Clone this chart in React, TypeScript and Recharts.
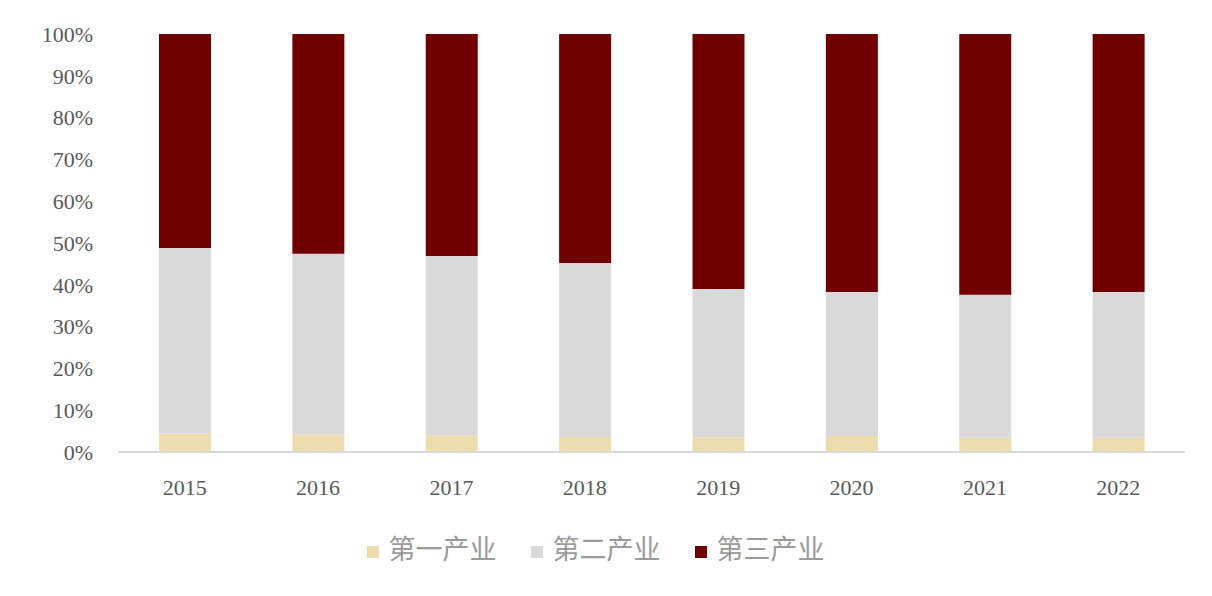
import React from 'react';
import { BarChart, Bar, XAxis, YAxis, Legend } from 'recharts';

const years = ['2015', '2016', '2017', '2018', '2019', '2020', '2021', '2022'];
const primary = [4.4, 4.2, 4.0, 3.6, 3.5, 3.8, 3.4, 3.4];
const secondary = [44.4, 43.2, 42.9, 41.6, 35.5, 34.5, 34.2, 34.9];
const tertiary = [51.2, 52.6, 53.1, 54.8, 61.0, 61.7, 62.4, 61.7];
const yTicks = [0, 10, 20, 30, 40, 50, 60, 70, 80, 90, 100];

const data = years.map((y, i) => ({
  year: y,
  p: primary[i],
  s: secondary[i],
  t: tertiary[i],
}));

const tickFont = { fontFamily: '"Liberation Serif", "Times New Roman", serif', fontSize: 22, fill: '#595959' };

export default function App() {
  return (
    <div style={{ position: 'absolute', left: 0, top: 0, background: '#fff' }}>
      <BarChart
        width={1212}
        height={596}
        data={data}
        margin={{ top: 34, right: 27, left: 10, bottom: 29 }}
        barSize={52}
      >
        <XAxis
          dataKey="year"
          tickLine={false}
          axisLine={{ stroke: '#d9d9d9', strokeWidth: 2 }}
          tick={tickFont}
          tickMargin={21}
          height={76}
          interval={0}
        />
        <YAxis
          domain={[0, 100]}
          ticks={yTicks}
          tickFormatter={(v: number) => `${v}%`}
          axisLine={false}
          tickLine={false}
          tick={tickFont}
          tickMargin={19}
          width={108}
          interval={0}
        />
        <Legend
          verticalAlign="bottom"
          align="center"
          iconType="square"
          iconSize={12}
          itemSorter="dataKey"
          wrapperStyle={{ fontFamily: '"Noto Sans CJK SC", sans-serif', fontSize: 27, paddingLeft: 15 }}
          formatter={(value: string) => (
            <span style={{ color: '#9a9a9a', marginLeft: 6, paddingRight: 24 }}>{value}</span>
          )}
        />
        <Bar dataKey="p" name="第一产业" stackId="a" fill="#ecdcae" isAnimationActive={false} />
        <Bar dataKey="s" name="第二产业" stackId="a" fill="#d9d9d9" isAnimationActive={false} />
        <Bar dataKey="t" name="第三产业" stackId="a" fill="#700000" isAnimationActive={false} />
      </BarChart>
    </div>
  );
}
